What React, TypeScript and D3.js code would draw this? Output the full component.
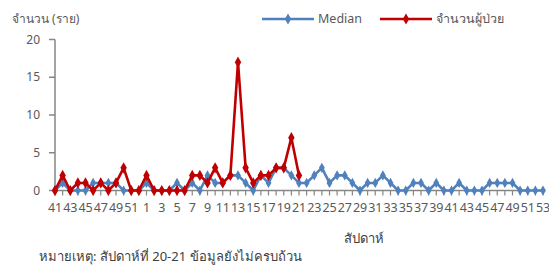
import React, { useEffect, useRef } from 'react';
import * as d3 from 'd3';

// weeks: 41-52 of previous year, then 1-53
const weeks = [
  41, 42, 43, 44, 45, 46, 47, 48, 49, 50, 51, 52,
  1, 2, 3, 4, 5, 6, 7, 8, 9, 10, 11, 12, 13, 14, 15, 16, 17, 18, 19, 20,
  21, 22, 23, 24, 25, 26, 27, 28, 29, 30, 31, 32, 33, 34, 35, 36, 37, 38,
  39, 40, 41, 42, 43, 44, 45, 46, 47, 48, 49, 50, 51, 52, 53
];

const median = [
  0, 1, 0, 0, 0, 1, 1, 1, 1, 0, 0, 0,
  1, 0, 0, 0, 1, 0, 1, 0, 2, 1, 1, 2, 2, 1, 0, 2, 1, 3, 3, 2,
  1, 1, 2, 3, 1, 2, 2, 1, 0, 1, 1, 2, 1, 0, 0, 1, 1, 0,
  1, 0, 0, 1, 0, 0, 0, 1, 1, 1, 1, 0, 0, 0, 0
];

// patients, only reported up to week 21
const patients = [
  0, 2, 0, 1, 1, 0, 1, 0, 1, 3, 0, 0,
  2, 0, 0, 0, 0, 0, 2, 2, 1, 3, 1, 2, 17, 3, 1, 2, 2, 3, 3, 7,
  2
];

const yTicks = [0, 5, 10, 15, 20];

const FONT = "'Noto Sans', 'DejaVu Sans', sans-serif";
const TEXT = '#595959';
const AXIS = '#868686';
const BLUE = '#4F81BD';
const RED = '#C00000';

export default function App() {
  const ref = useRef<SVGSVGElement>(null);

  useEffect(() => {
    const svg = d3.select(ref.current);
    svg.selectAll('*').remove();

    const left = 55, right = 543, top = 39.5, bottom = 190.5;

    const x = d3.scaleLinear().domain([0, weeks.length - 1]).range([left, right]);
    const y = d3.scaleLinear().domain([0, 20]).range([bottom, top]);

    // y axis
    svg.append('line')
      .attr('x1', left).attr('x2', left).attr('y1', top).attr('y2', bottom)
      .attr('stroke', AXIS).attr('stroke-width', 1.5);
    yTicks.forEach(t => {
      svg.append('line')
        .attr('x1', left - 6).attr('x2', left).attr('y1', y(t)).attr('y2', y(t))
        .attr('stroke', AXIS).attr('stroke-width', 1.5);
      svg.append('text')
        .attr('x', 40).attr('y', y(t)).attr('dy', '0.35em')
        .attr('text-anchor', 'end')
        .attr('font-size', 12).attr('fill', TEXT).attr('font-family', FONT)
        .text(t);
    });

    // x axis
    svg.append('line')
      .attr('x1', left).attr('x2', right).attr('y1', bottom).attr('y2', bottom)
      .attr('stroke', AXIS).attr('stroke-width', 1.5);
    weeks.forEach((w, i) => {
      svg.append('line')
        .attr('x1', x(i)).attr('x2', x(i)).attr('y1', bottom).attr('y2', bottom + 5)
        .attr('stroke', AXIS).attr('stroke-width', 1.2);
      if (i % 2 === 0) {
        svg.append('text')
          .attr('x', x(i)).attr('y', 212)
          .attr('text-anchor', 'middle')
          .attr('font-size', 12.5).attr('fill', TEXT).attr('font-family', FONT)
          .attr('letter-spacing', -0.2)
          .text(w);
      }
    });

    const line = d3.line<number>().x((_, i) => x(i)).y(d => y(d));
    const diamond = d3.symbol().type(d3.symbolDiamond);

    const drawSeries = (data: number[], color: string, size: number) => {
      svg.append('path')
        .datum(data)
        .attr('d', line)
        .attr('fill', 'none')
        .attr('stroke', color)
        .attr('stroke-width', 2.6)
        .attr('stroke-linejoin', 'round');
      svg.append('g').selectAll('path')
        .data(data)
        .enter().append('path')
        .attr('transform', (d, i) => `translate(${x(i)},${y(d)})`)
        .attr('d', diamond.size(size)())
        .attr('fill', color);
    };

    drawSeries(median, BLUE, 30);
    drawSeries(patients, RED, 36);

    // legend
    const legend = [
      { label: 'Median', color: BLUE, x0: 262 },
      { label: 'จำนวนผู้ป่วย', color: RED, x0: 380 }
    ];
    legend.forEach(l => {
      svg.append('line')
        .attr('x1', l.x0).attr('x2', l.x0 + 52).attr('y1', 19).attr('y2', 19)
        .attr('stroke', l.color).attr('stroke-width', 2.6);
      svg.append('path')
        .attr('transform', `translate(${l.x0 + 26},19)`)
        .attr('d', diamond.size(34)())
        .attr('fill', l.color);
      svg.append('text')
        .attr('x', l.x0 + 56).attr('y', 19).attr('dy', '0.35em')
        .attr('font-size', 12.5).attr('fill', TEXT).attr('font-family', FONT)
        .text(l.label);
    });

    // titles
    svg.append('text')
      .attr('x', 12).attr('y', 19).attr('dy', '0.35em')
      .attr('font-size', 12).attr('fill', TEXT).attr('font-family', FONT)
      .text('จำนวน (ราย)');
    svg.append('text')
      .attr('x', 364).attr('y', 238).attr('dy', '0.35em')
      .attr('text-anchor', 'middle')
      .attr('font-size', 13).attr('fill', '#404040').attr('font-family', FONT)
      .text('สัปดาห์');
    svg.append('text')
      .attr('x', 39).attr('y', 256).attr('dy', '0.35em')
      .attr('font-size', 13).attr('fill', '#404040').attr('font-family', FONT)
      .text('หมายเหตุ: สัปดาห์ที่ 20-21 ข้อมูลยังไม่ครบถ้วน');
  }, []);

  return (
    <svg
      ref={ref}
      width={549}
      height={266}
      style={{ position: 'absolute', left: 0, top: 0, background: '#fff' }}
    />
  );
}
